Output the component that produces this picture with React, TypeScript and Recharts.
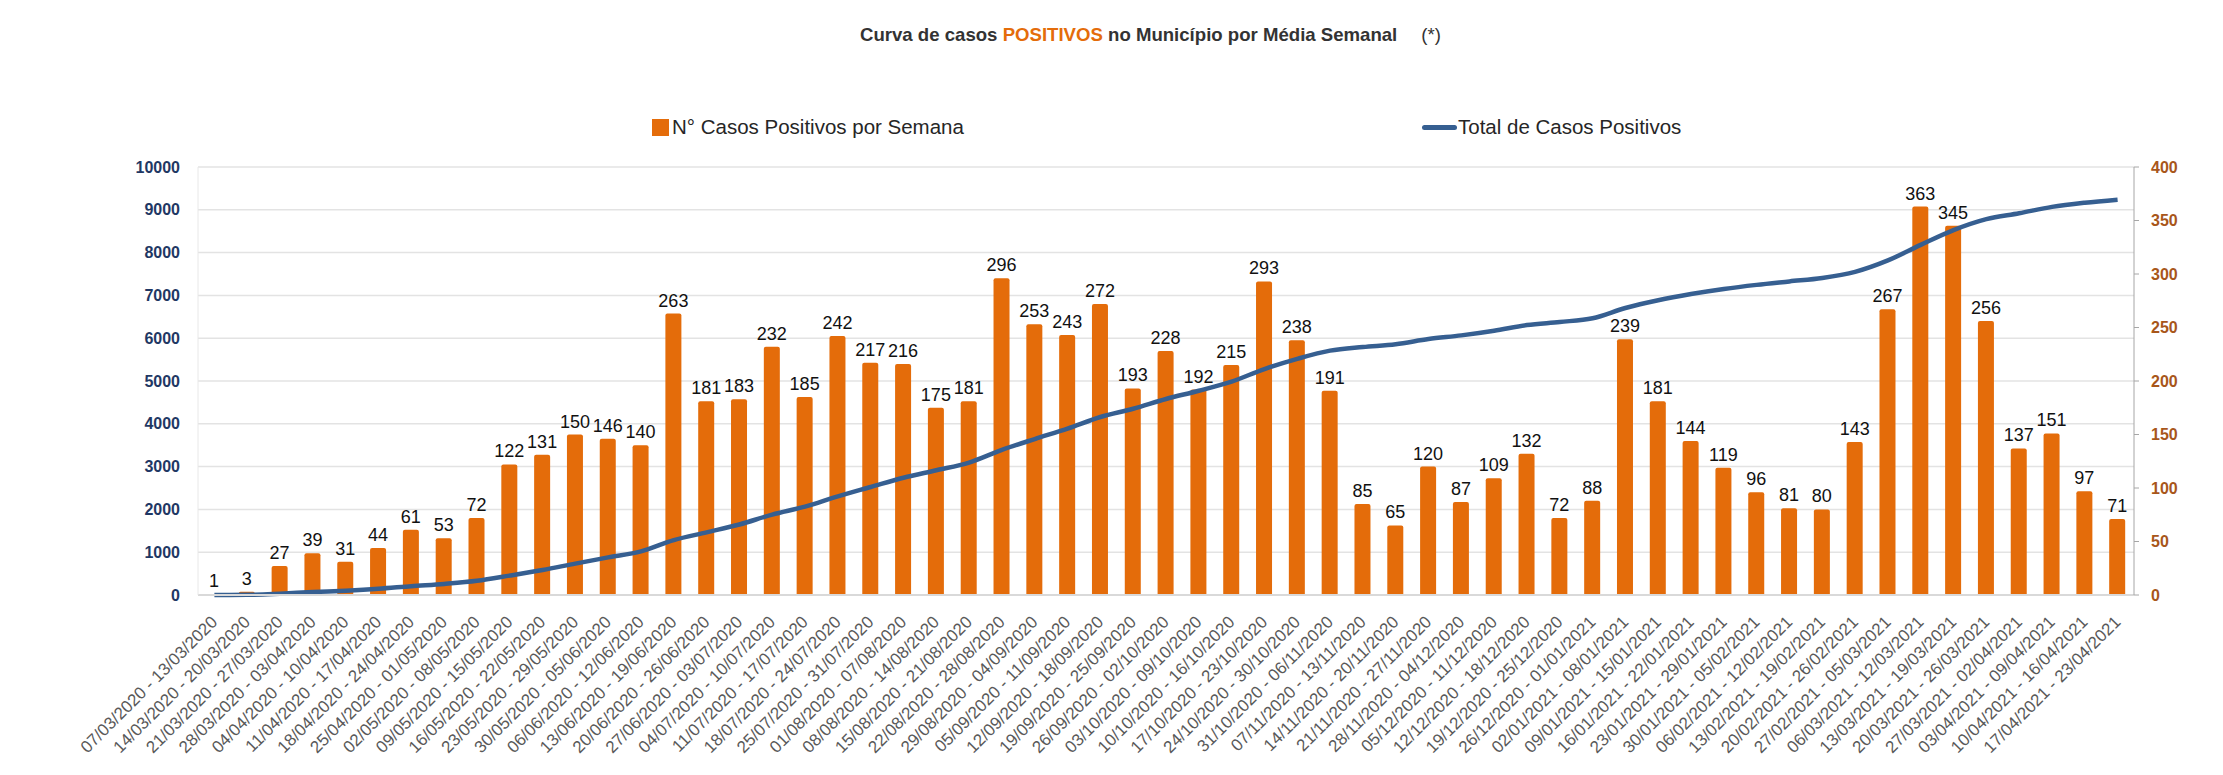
import React from 'react';
import { ComposedChart, Bar, Line, XAxis, YAxis, CartesianGrid, Legend, LabelList } from 'recharts';

const weeks = [
    '07/03/2020 - 13/03/2020', '14/03/2020 - 20/03/2020', '21/03/2020 - 27/03/2020', '28/03/2020 - 03/04/2020',
    '04/04/2020 - 10/04/2020', '11/04/2020 - 17/04/2020', '18/04/2020 - 24/04/2020', '25/04/2020 - 01/05/2020',
    '02/05/2020 - 08/05/2020', '09/05/2020 - 15/05/2020', '16/05/2020 - 22/05/2020', '23/05/2020 - 29/05/2020',
    '30/05/2020 - 05/06/2020', '06/06/2020 - 12/06/2020', '13/06/2020 - 19/06/2020', '20/06/2020 - 26/06/2020',
    '27/06/2020 - 03/07/2020', '04/07/2020 - 10/07/2020', '11/07/2020 - 17/07/2020', '18/07/2020 - 24/07/2020',
    '25/07/2020 - 31/07/2020', '01/08/2020 - 07/08/2020', '08/08/2020 - 14/08/2020', '15/08/2020 - 21/08/2020',
    '22/08/2020 - 28/08/2020', '29/08/2020 - 04/09/2020', '05/09/2020 - 11/09/2020', '12/09/2020 - 18/09/2020',
    '19/09/2020 - 25/09/2020', '26/09/2020 - 02/10/2020', '03/10/2020 - 09/10/2020', '10/10/2020 - 16/10/2020',
    '17/10/2020 - 23/10/2020', '24/10/2020 - 30/10/2020', '31/10/2020 - 06/11/2020', '07/11/2020 - 13/11/2020',
    '14/11/2020 - 20/11/2020', '21/11/2020 - 27/11/2020', '28/11/2020 - 04/12/2020', '05/12/2020 - 11/12/2020',
    '12/12/2020 - 18/12/2020', '19/12/2020 - 25/12/2020', '26/12/2020 - 01/01/2021', '02/01/2021 - 08/01/2021',
    '09/01/2021 - 15/01/2021', '16/01/2021 - 22/01/2021', '23/01/2021 - 29/01/2021', '30/01/2021 - 05/02/2021',
    '06/02/2021 - 12/02/2021', '13/02/2021 - 19/02/2021', '20/02/2021 - 26/02/2021', '27/02/2021 - 05/03/2021',
    '06/03/2021 - 12/03/2021', '13/03/2021 - 19/03/2021', '20/03/2021 - 26/03/2021', '27/03/2021 - 02/04/2021',
    '03/04/2021 - 09/04/2021', '10/04/2021 - 16/04/2021', '17/04/2021 - 23/04/2021',
];

// casos positivos por semana (eixo da direita)
const weeklyCases = [
    1, 3, 27, 39, 31, 44, 61, 53, 72, 122,
    131, 150, 146, 140, 263, 181, 183, 232, 185, 242,
    217, 216, 175, 181, 296, 253, 243, 272, 193, 228,
    192, 215, 293, 238, 191, 85, 65, 120, 87, 109,
    132, 72, 88, 239, 181, 144, 119, 96, 81, 80,
    143, 267, 363, 345, 256, 137, 151, 97, 71,
];

// total acumulado (eixo da esquerda)
const totalCases = [
    1, 4, 31, 70, 101, 145, 206, 259, 331, 453,
    584, 734, 880, 1020, 1283, 1464, 1647, 1879, 2064, 2306,
    2523, 2739, 2914, 3095, 3391, 3644, 3887, 4159, 4352, 4580,
    4772, 4987, 5280, 5518, 5709, 5794, 5859, 5979, 6066, 6175,
    6307, 6379, 6467, 6706, 6887, 7031, 7150, 7246, 7327, 7407,
    7550, 7817, 8180, 8525, 8781, 8918, 9069, 9166, 9237,
];

const leftTicks = [0, 1000, 2000, 3000, 4000, 5000, 6000, 7000, 8000, 9000, 10000];
const rightTicks = [0, 50, 100, 150, 200, 250, 300, 350, 400];

const BAR_COLOR = '#e46c0a';
const LINE_COLOR = '#365f91';
const FONT = '"Liberation Sans", Arial, sans-serif';

const data = weeks.map((week, i) => ({
    week,
    semana: weeklyCases[i],
    total: totalCases[i],
}));

const WeekTick: React.FC<any> = ({ x, y, payload }) => (
    <g transform={`translate(${x + 4},${y + 28})`}>
        <text x={0} y={0} textAnchor="end" transform="rotate(-45)" fill="#595959" fontSize={17} fontFamily={FONT}>
            {payload.value}
        </text>
    </g>
);

const legendPos = [652, 1422];

const CustomLegend: React.FC<any> = ({ payload }) => (
    <div style={{ position: 'relative', height: 26, fontFamily: FONT, fontSize: 20.5, color: '#262626' }}>
        {(payload || []).map((entry: any, i: number) => (
            <div key={entry.value} style={{ position: 'absolute', left: legendPos[i], top: 0, display: 'flex', alignItems: 'center', whiteSpace: 'nowrap' }}>
                {entry.type === 'line'
                    ? <span style={{ display: 'inline-block', width: 35, height: 5, borderRadius: 3, background: LINE_COLOR, marginRight: 1 }} />
                    : <span style={{ display: 'inline-block', width: 17, height: 17, background: BAR_COLOR, marginRight: 3 }} />}
                <span>{entry.value}</span>
            </div>
        ))}
    </div>
);

const App: React.FC = () => {
    return (
        <div style={{ position: 'relative', width: 2223, height: 775, background: '#fff' }}>
            <style>{'body { margin: 0; }'}</style>
            <div style={{ position: 'absolute', left: 860, top: 24, fontFamily: FONT, fontSize: 18.6, fontWeight: 700, color: '#333333', whiteSpace: 'nowrap', lineHeight: '22px' }}>
                Curva de casos <span style={{ color: BAR_COLOR }}>POSITIVOS</span> no Município por Média Semanal
                <span style={{ marginLeft: 24, fontWeight: 400 }}>(*)</span>
            </div>
            <ComposedChart
                width={2223}
                height={775}
                data={data}
                margin={{ top: 167, right: 0, bottom: 0, left: 0 }}
            >
                <CartesianGrid yAxisId="left" vertical={false} stroke="#e3e3e3" strokeWidth={1.5} />
                <XAxis
                    dataKey="week"
                    interval={0}
                    height={180}
                    tickSize={0}
                    tickMargin={0}
                    tick={<WeekTick />}
                    axisLine={{ stroke: '#d9d9d9', strokeWidth: 2 }}
                    tickLine={false}
                />
                <YAxis
                    yAxisId="left"
                    orientation="left"
                    width={198}
                    domain={[0, 10000]}
                    ticks={leftTicks}
                    interval={0}
                    tickSize={0}
                    tickMargin={18}
                    tickLine={false}
                    axisLine={{ stroke: '#e8e8e8' }}
                    tick={{ fill: '#1f3864', fontSize: 16, fontWeight: 700, fontFamily: FONT }}
                />
                <YAxis
                    yAxisId="right"
                    orientation="right"
                    width={89}
                    domain={[0, 400]}
                    ticks={rightTicks}
                    interval={0}
                    tickSize={5}
                    tickMargin={12}
                    axisLine={{ stroke: '#a6a6a6' }}
                    tickLine={{ stroke: '#a6a6a6' }}
                    tick={{ fill: '#a8561a', fontSize: 16, fontWeight: 700, fontFamily: FONT, textAnchor: 'start' }}
                />
                <Legend
                    verticalAlign="middle"
                    layout="horizontal"
                    wrapperStyle={{ top: 115, left: 0, width: 2223 }}
                    content={<CustomLegend />}
                />
                <Bar
                    yAxisId="right"
                    dataKey="semana"
                    name="N° Casos Positivos por Semana"
                    fill={BAR_COLOR}
                    barSize={16}
                    radius={[2, 2, 0, 0]}
                    legendType="rect"
                    isAnimationActive={false}
                >
                    <LabelList dataKey="semana" position="top" offset={7} fill="#111" fontSize={18} fontFamily={FONT} />
                </Bar>
                <Line
                    yAxisId="left"
                    type="monotone"
                    dataKey="total"
                    name="Total de Casos Positivos"
                    stroke={LINE_COLOR}
                    strokeWidth={4.5}
                    dot={false}
                    legendType="line"
                    isAnimationActive={false}
                />
            </ComposedChart>
        </div>
    );
};

export default App;
